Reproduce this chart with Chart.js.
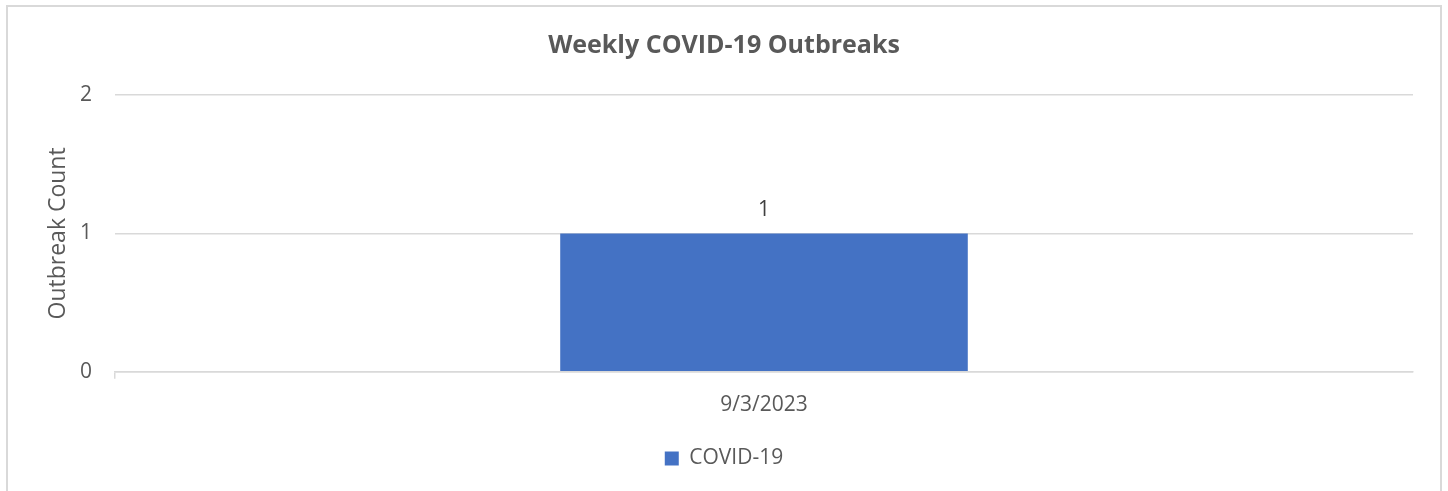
<!DOCTYPE html>
<html>
<head>
<meta charset="utf-8">
<script src="https://cdn.jsdelivr.net/npm/chart.js@4"></script>
<style>
  html, body { margin: 0; padding: 0; background: #fff; overflow: hidden; }
  #wrap { position: absolute; left: 0; top: 0; width: 1448px; height: 491px; }
  #frame { position: absolute; left: 6px; top: 5px; width: 1436px; height: 500px; border: 2px solid #d9d9d9; box-sizing: border-box; }
  canvas { position: absolute; left: 0; top: 0; }
</style>
</head>
<body>
<div id="wrap">
  <div id="frame"></div>
  <canvas id="myChart" width="1448" height="491"></canvas>
</div>
<script>
// Data
const weeks = ['9/3/2023'];
const covidCounts = [1];
const yTicks = [0, 1, 2];

const FONT = "'Open Sans', sans-serif";
const GREY = '#595959';

// Value labels above bars
const barLabels = {
  id: 'barLabels',
  afterDatasetsDraw(chart) {
    const ctx = chart.ctx;
    ctx.save();
    ctx.font = "21px " + FONT;
    ctx.fillStyle = '#404040';
    ctx.textAlign = 'center';
    ctx.textBaseline = 'bottom';
    chart.getDatasetMeta(0).data.forEach((bar, i) => {
      ctx.fillText(covidCounts[i], bar.x, bar.y - 13);
    });
    ctx.restore();
  }
};

const ctx = document.getElementById('myChart');
new Chart(ctx, {
  type: 'bar',
  data: {
    labels: weeks,
    datasets: [{
      label: 'COVID-19',
      data: covidCounts,
      backgroundColor: '#4472C4',
      categoryPercentage: 1,
      barPercentage: 0.314
    }]
  },
  options: {
    responsive: false,
    animation: false,
    layout: { padding: { left: 8, right: 8, top: 0, bottom: 12 } },
    plugins: {
      title: {
        display: true,
        text: 'Weekly COVID-19 Outbreaks',
        color: GREY,
        font: { family: FONT, size: 25, weight: 'bold' },
        padding: { top: 31, bottom: 34 }
      },
      legend: {
        position: 'bottom',
        labels: {
          color: GREY,
          font: { family: FONT, size: 21 },
          boxWidth: 14,
          boxHeight: 14,
          padding: 16
        }
      },
      tooltip: { enabled: false }
    },
    scales: {
      x: {
        offset: true,
        grid: {
          drawOnChartArea: false,
          drawTicks: true,
          tickLength: 7,
          lineWidth: 1.5,
          color: c => c.index === 0 ? '#d9d9d9' : 'rgba(0,0,0,0)'
        },
        border: { color: '#d9d9d9', width: 1.5 },
        ticks: { color: GREY, font: { family: FONT, size: 21 }, padding: 14 }
      },
      y: {
        min: 0,
        max: 2,
        afterBuildTicks: s => { s.ticks = yTicks.map(v => ({ value: v })); },
        afterFit: s => { s.width = 107; },
        grid: { color: '#d9d9d9', lineWidth: 1.5, drawTicks: false },
        border: { display: false },
        ticks: { color: GREY, font: { family: FONT, size: 21 }, padding: 23 },
        title: {
          display: true,
          text: 'Outbreak Count',
          color: GREY,
          font: { family: FONT, size: 23 },
          padding: { top: 37, bottom: 0 }
        }
      },
      // empty right-hand space so the plot ends short of the frame
      y2: {
        type: 'linear',
        position: 'right',
        grid: { display: false },
        border: { display: false },
        ticks: { display: false },
        afterFit: s => { s.width = 27; }
      }
    }
  },
  plugins: [barLabels]
});
</script>
</body>
</html>
